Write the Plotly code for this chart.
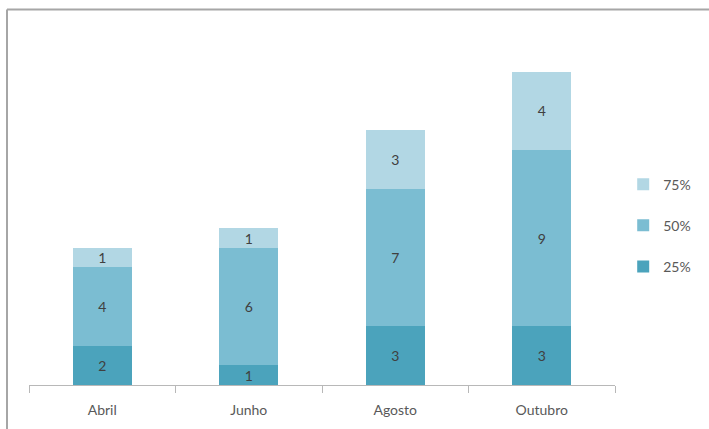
import plotly.graph_objects as go

categories = ["Abril", "Junho", "Agosto", "Outubro"]
series_names = ["25%", "50%", "75%"]
v25 = [2, 1, 3, 3]
v50 = [4, 6, 7, 9]
v75 = [1, 1, 3, 4]
colors = ["#4ba3bc", "#7bbdd2", "#b2d7e4"]
ranks = [3, 2, 1]

fig = go.Figure()
for name, vals, col, rk in zip(series_names, [v25, v50, v75], colors, ranks):
    fig.add_trace(go.Bar(
        x=categories, y=vals, name=name, marker=dict(color=col, line=dict(width=0)),
        text=[str(v) for v in vals], textposition="inside", insidetextanchor="middle",
        textangle=0, textfont=dict(color="#404040", size=14, family="Lato"),
        legendgroup=name, legendrank=rk,
    ))

L, R, T, B = 29, 94, 52, 44
PW, PH = 709 - L - R, 429 - T - B
fx = (7 - L) / PW
fy = (385 - 9.5) / PH
fig.update_layout(
    width=709, height=429,
    margin=dict(l=L, r=R, t=T, b=B, autoexpand=False),
    barmode="stack", bargap=0.6,
    uniformtext=dict(minsize=14, mode="show"),
    paper_bgcolor="white", plot_bgcolor="white",
    font=dict(family="Lato", color="#595959", size=14),
    showlegend=True,
    legend=dict(x=1.014, y=0.65, xanchor="left", yanchor="top",
                traceorder="grouped", tracegroupgap=20,
                font=dict(size=14, color="#595959"), itemwidth=30),
    xaxis=dict(showline=True, linecolor="#b8b8b8", linewidth=1,
               ticks="outside", tickson="boundaries", ticklen=7, tickcolor="#b8b8b8",
               ticklabelstandoff=12,
               showgrid=False, tickfont=dict(size=14, color="#595959")),
    yaxis=dict(visible=False, range=[0, 17], showgrid=False),
    shapes=[
        dict(type="line", xref="paper", yref="paper", x0=fx, x1=1.3, y0=fy, y1=fy,
             line=dict(color="#a6a6a6", width=2)),
        dict(type="line", xref="paper", yref="paper", x0=fx, x1=fx, y0=-0.5, y1=fy,
             line=dict(color="#a6a6a6", width=2)),
    ],
)
fig.write_html("out.html", config={"displayModeBar": False})
